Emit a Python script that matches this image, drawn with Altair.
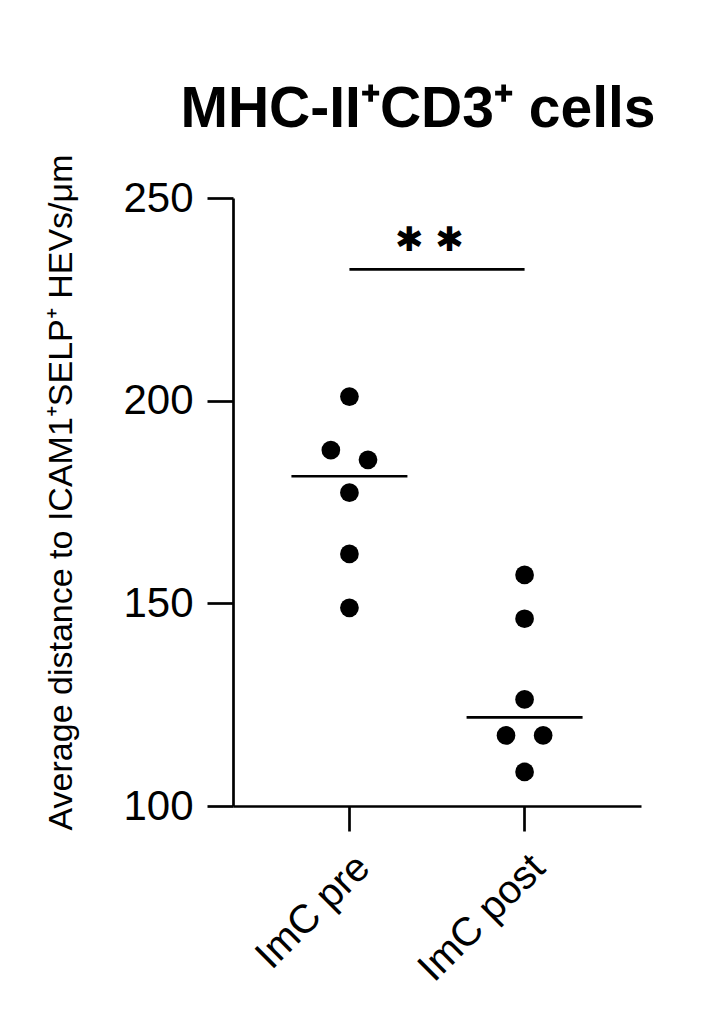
import altair as alt
import pandas as pd

# Data
groups = ["ImC pre", "ImC post"]
pre_values = [201.0, 187.8, 185.4, 177.3, 162.2, 148.9]
pre_cols = [0, -1, 1, 0, 0, 0]          # dot-plot column slot (beeswarm)
post_values = [157.0, 146.2, 126.3, 117.4, 117.4, 108.4]
post_cols = [0, 0, 0, -1, 1, 0]
sig_y = 232.4
sig_label = "\u2731 \u2731"
y_ticks = [100, 150, 200, 250]

title_text = "MHC-II\u207aCD3\u207a cells"
y_title = "Average distance to ICAM1\u207aSELP\u207a HEVs/\u03bcm"

df = pd.DataFrame({
    "group": [groups[0]] * len(pre_values) + [groups[1]] * len(post_values),
    "value": pre_values + post_values,
    "col": pre_cols + post_cols,
})
sig_df = pd.DataFrame({"g1": [groups[0]], "g2": [groups[1]], "y": [sig_y], "label": [sig_label]})

FONT = "Liberation Sans, Arial, Helvetica, sans-serif"

x_scale = alt.Scale(domain=groups, paddingInner=0.788, paddingOuter=0.5587)
x_enc = alt.X(
    "group:N",
    scale=x_scale,
    axis=alt.Axis(
        title=None,
        labelAngle=-45,
        labelFontSize=40,
        labelFont=FONT,
        labelColor="black",
        labelPadding=16,
        tickSize=25,
        tickWidth=2.7,
        tickColor="black",
        domainColor="black",
        domainWidth=2.7,
        grid=False,
    ),
)

y_scale = alt.Scale(domain=[100, 250], nice=False, zero=False)
y_axis = alt.Axis(
    title=y_title,
    values=y_ticks,
    titleFontSize=34,
    titleFont=FONT,
    titleFontWeight="normal",
    titleColor="black",
    titlePadding=44,
    titleY=294,
    labelFontSize=42,
    labelFont=FONT,
    labelColor="black",
    labelPadding=14,
    tickSize=26,
    tickWidth=2.7,
    tickColor="black",
    domainColor="black",
    domainWidth=2.7,
    grid=False,
)

points = alt.Chart(df).mark_circle(size=350, color="black", opacity=1).encode(
    x=x_enc,
    xOffset=alt.XOffset("col:Q", scale=alt.Scale(domain=[-1, 1])),
    y=alt.Y("value:Q", scale=y_scale, axis=y_axis),
)

medians = alt.Chart(df).mark_tick(color="black", size=116, thickness=2.7, opacity=1).encode(
    x=alt.X("group:N", scale=x_scale),
    y=alt.Y("median(value):Q"),
)

sig_rule = alt.Chart(sig_df).mark_rule(color="black", strokeWidth=2.7).encode(
    x=alt.X("g1:N", scale=x_scale),
    x2="g2",
    y="y:Q",
)

sig_text = alt.Chart(sig_df).mark_text(
    font="DejaVu Sans", fontSize=34, fontWeight="bold", color="black", dx=80, dy=-28,
    baseline="middle", align="center",
).encode(
    x=alt.X("g1:N", scale=x_scale),
    y="y:Q",
    text="label:N",
)

chart = alt.layer(points, medians, sig_rule, sig_text).properties(
    width=408,
    height=608,
    background="white",
    title=alt.TitleParams(
        text=title_text,
        font=FONT,
        fontSize=57,
        fontWeight="bold",
        color="black",
        anchor="middle",
        dx=-19,
        offset=15,
    ),
    autosize=alt.AutoSizeParams(type="none"),
    padding={"left": 225, "top": 190, "right": 46, "bottom": 200},
).configure_view(stroke=None)

chart.save("out.html", embed_options={"renderer": "svg", "actions": False})
